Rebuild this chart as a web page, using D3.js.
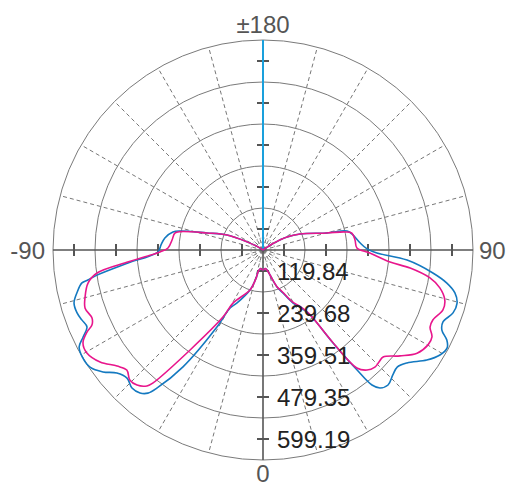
<!DOCTYPE html>
<html><head><meta charset="utf-8">
<script src="https://cdn.jsdelivr.net/npm/d3@7"></script>
<style>html,body{margin:0;padding:0;background:#fff;}svg{display:block;}</style>
</head><body>
<svg id="chart" width="512" height="487"></svg>
<script>
// ---- data ----
const radialTicks = [119.84, 239.68, 359.51, 479.35, 599.19];
const ringValues = [179.76, 299.6, 419.43, 539.27, 659.11];
const radialMin = 59.92, radialMax = 659.11;
const angleLabels = [
  {a: 180, t: "±180"}, {a: -90, t: "-90"}, {a: 90, t: "90"}, {a: 0, t: "0"}
];
const cursorAngle = 180;

const blueAngles = [-180,-130,-122,-117,-112.6,-106.9,-102.9,-101.3,-97,-93,-88.9,-84.5,-81.4,-80.3,-79.7,-77,-74.3,-71.3,-68.9,-66.4,-64.2,-62.2,-59.4,-55.9,-52.7,-49.9,-46.7,-43.5,-40.7,-38.8,-37.5,-34.4,-30.9,-29.6,-26.1,-18,-14,-12,-7,0,7,12,15.6,20.7,24.9,29.5,33,35.9,37,38.1,38.9,40.3,42.8,46.1,48.9,51.9,56.1,59.3,62,63.9,65.9,68.2,71.7,74.7,77.4,79.8,82.3,86,88.5,90.6,94.1,99.5,102.7,104.9,113.4,118.4,123,126,130,180];
const blueValues = [50,50,74,111,171,227,303,322,342,351,360,447,539,567,585,605,620,620,614,608,630,653,660,656,634,605,593,603,598,584,556,464,316,250,228,180,145,120,113,117,113,120,134,173,195,234,254,289,391,495,555,576,585,574,568,582,623,647,655,644,619,613,631,634,621,593,549,472,385,357,338,320,306,249,175,138,94,68,50,50];

const pinkAngles = [-180,-130,-122,-117,-112.6,-106.9,-102.5,-100.9,-96.3,-91.2,-88.9,-85,-82.1,-79.3,-75.2,-71.9,-68.3,-66.3,-65,-62.7,-59.7,-55.5,-51.5,-48.6,-45.7,-43,-40.5,-39.6,-36.1,-30.8,-29.5,-18,-14,-12,-7,0,7,12,15.6,20.7,24.9,29.5,33,35.9,37,38.5,40.9,43.7,46,48.3,52.3,56.2,60.1,62.8,65.2,67.6,71.6,74.6,77.9,80.5,83,84.6,88.4,91.2,96.2,100.8,102.4,104.9,113.4,118.4,123,126,130,180];
const pinkValues = [50,50,74,111,171,227,302,316,321,331,354,445,538,568,585,594,585,593,614,638,642,624,592,578,591,587,570,552,413,282,234,180,145,120,113,117,113,120,134,171,192,230,250,284,385,490,513,522,520,519,554,589,603,602,585,584,601,598,576,543,483,424,365,328,324,318,300,249,175,138,94,68,50,50];

// ---- layout ----
const cx = 263, cy = 250, R = 210;
const svg = d3.select("#chart");
const g = svg.append("g").attr("transform", `translate(${cx},${cy})`);
const r = d3.scaleLinear().domain([radialMin, radialMax]).range([0, R]).clamp(true);
const toRad = a => Math.PI - a * Math.PI / 180; // 0 at bottom, 90 at right
const px = (a, v) => [Math.sin(a*Math.PI/180) * r(v), Math.cos(a*Math.PI/180) * r(v)];

// small center circles
[4, 8, 12].forEach(rr => g.append("circle").attr("r", rr).attr("fill", "none")
  .attr("stroke", "#999").attr("stroke-width", 0.8).attr("stroke-dasharray", "2,1.5"));

// rings
g.selectAll("circle.ring").data(ringValues).enter().append("circle")
  .attr("class", "ring").attr("r", d => r(d)).attr("fill", "none")
  .attr("stroke", "#7a7a7a").attr("stroke-width", 1);

// spokes every 15 deg (excluding axes)
const spokes = d3.range(-180, 180, 15).filter(a => a % 90 !== 0);
g.selectAll("line.spoke").data(spokes).enter().append("line")
  .attr("x1", 0).attr("y1", 0)
  .attr("x2", d => px(d, radialMax)[0]).attr("y2", d => px(d, radialMax)[1])
  .attr("stroke", "#777").attr("stroke-width", 1).attr("stroke-dasharray", "4,3");

// axes
[0, 90].forEach(a => {
  const p1 = px(a, radialMax), p2 = px(a + 180, radialMax);
  g.append("line").attr("x1", p1[0]).attr("y1", p1[1]).attr("x2", p2[0]).attr("y2", p2[1])
    .attr("stroke", "#555").attr("stroke-width", 1.6);
});
// ticks on four arms
[0, 90, 180, -90].forEach(a => {
  radialTicks.forEach(v => {
    const rr = r(v);
    const horiz = (a === 0 || a === 180);
    const s = Math.sin(a*Math.PI/180), c = Math.cos(a*Math.PI/180);
    const x = s * rr, y = c * rr;
    g.append("line")
      .attr("x1", horiz ? x - 6 : x).attr("x2", horiz ? x + 6 : x)
      .attr("y1", horiz ? y : y - 6).attr("y2", horiz ? y : y + 6)
      .attr("stroke", "#555").attr("stroke-width", 2);
  });
});

// cursor line
{
  const p = px(cursorAngle, radialMax);
  g.append("line").attr("x1", 0).attr("y1", 0).attr("x2", p[0]).attr("y2", p[1])
    .attr("stroke", "#1aa0dc").attr("stroke-width", 2);
}

// curves
const line = d3.lineRadial().angle(d => toRad(d[0])).radius(d => r(d[1]))
  .curve(d3.curveCatmullRom.alpha(0.5));
const blue = d3.zip(blueAngles, blueValues);
const pink = d3.zip(pinkAngles, pinkValues);
g.append("path").attr("d", line(blue)).attr("fill", "none")
  .attr("stroke", "#1479c0").attr("stroke-width", 1.6).attr("stroke-linejoin", "round");
g.append("path").attr("d", line(pink)).attr("fill", "none")
  .attr("stroke", "#e8168c").attr("stroke-width", 1.6).attr("stroke-linejoin", "round");

// radial labels
const font = "'Liberation Sans', Arial, Helvetica, sans-serif";
g.selectAll("text.rl").data(radialTicks).enter().append("text")
  .attr("x", 14).attr("y", d => r(d)).attr("dy", "0.36em")
  .attr("font-family", font).attr("font-size", 24).attr("fill", "#222")
  .text(d => d.toFixed(2));

// angle labels
angleLabels.forEach(d => {
  const t = g.append("text").attr("font-family", font).attr("font-size", 24).attr("fill", "#555").text(d.t);
  if (d.a === 180) t.attr("x", 0).attr("y", -R - 7).attr("text-anchor", "middle");
  else if (d.a === 0) t.attr("x", 0).attr("y", R + 22).attr("text-anchor", "middle");
  else if (d.a === -90) t.attr("x", -R - 8).attr("y", 0).attr("dy", "0.36em").attr("text-anchor", "end");
  else t.attr("x", R + 6).attr("y", 0).attr("dy", "0.36em").attr("text-anchor", "start");
});
</script>
</body></html>
